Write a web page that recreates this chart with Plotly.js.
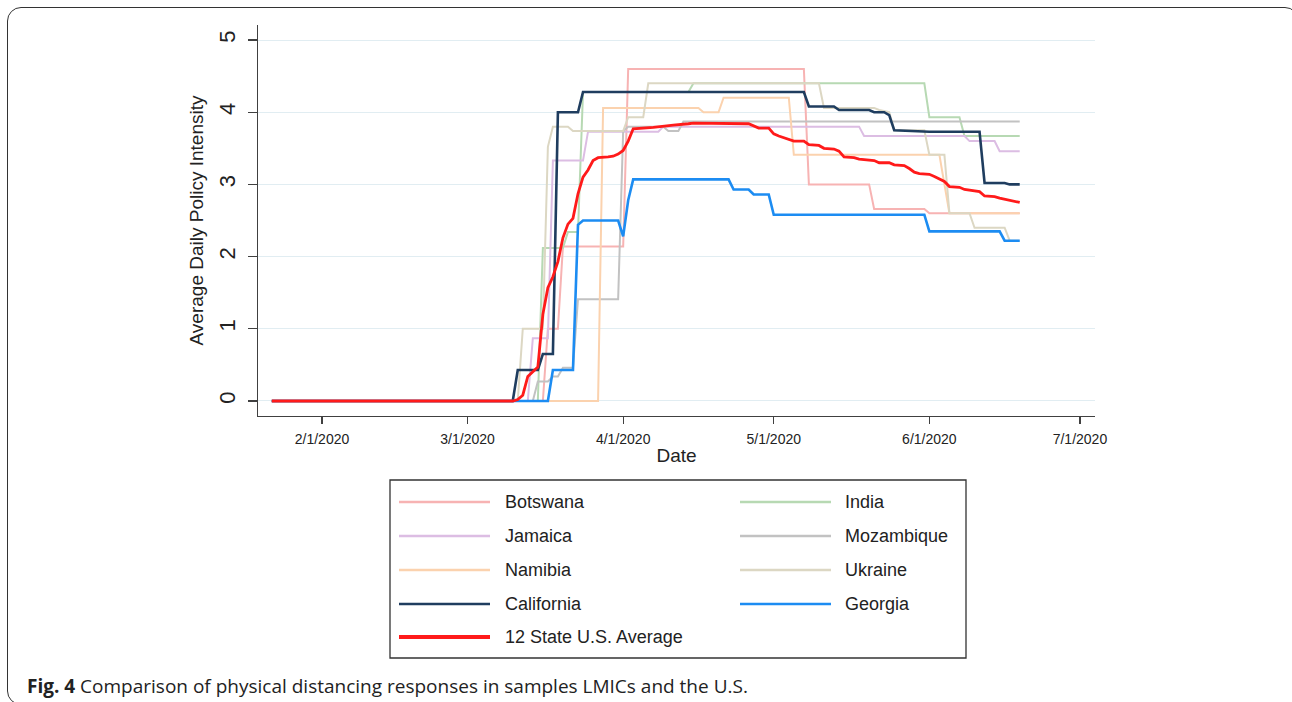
<!DOCTYPE html>
<html>
<head>
<meta charset="utf-8">
<script src="https://cdn.plot.ly/plotly-3.0.1.min.js"></script>
<style>
  html, body { margin: 0; padding: 0; background: #ffffff; overflow: hidden; }
  #frame { position: absolute; left: 7px; top: 7px; width: 1290px; height: 696px;
           border: 1.5px solid #333; border-radius: 14px; }
  #chart { position: absolute; left: 0; top: 0; width: 1292px; height: 702px; }
</style>
</head>
<body>
<div id="frame"></div>
<div id="chart"></div>
<script>
// ---------------- data ----------------
const botswanaDates = ['2020-01-22','2020-03-16','2020-03-17','2020-03-19','2020-03-20','2020-04-01','2020-04-02','2020-05-07','2020-05-08','2020-05-20','2020-05-21','2020-05-31','2020-06-01','2020-06-19'];
const botswanaValues = [0,0,1.0,1.0,2.14,2.14,4.6,4.6,3.0,3.0,2.66,2.66,2.6,2.6];

const indiaDates = ['2020-01-22','2020-03-15','2020-03-16','2020-03-20','2020-03-21','2020-03-23','2020-03-24','2020-04-14','2020-04-15','2020-05-31','2020-06-01','2020-06-07','2020-06-08','2020-06-19'];
const indiaValues = [0,0,2.12,2.12,2.34,2.34,4.28,4.28,4.4,4.4,3.93,3.93,3.67,3.67];

const jamaicaDates = ['2020-01-22','2020-03-13','2020-03-14','2020-03-17','2020-03-18','2020-03-24','2020-03-25','2020-04-08','2020-04-09','2020-05-18','2020-05-19','2020-06-08','2020-06-09','2020-06-14','2020-06-15','2020-06-19'];
const jamaicaValues = [0,0,0.87,0.87,3.33,3.33,3.73,3.73,3.8,3.8,3.67,3.67,3.6,3.6,3.46,3.46];

const mozambiqueDates = ['2020-01-22','2020-03-14','2020-03-15','2020-03-17','2020-03-18','2020-03-19','2020-03-20','2020-03-22','2020-03-23','2020-03-31','2020-04-01','2020-04-02','2020-04-09','2020-04-10','2020-04-12','2020-04-13','2020-06-19'];
const mozambiqueValues = [0,0,0.27,0.27,0.34,0.34,0.46,0.46,1.41,1.41,3.74,3.8,3.8,3.74,3.74,3.87,3.87];

const namibiaDates = ['2020-01-22','2020-03-27','2020-03-28','2020-04-16','2020-04-17','2020-04-20','2020-04-21','2020-05-04','2020-05-05','2020-06-03','2020-06-04','2020-06-05','2020-06-19'];
const namibiaValues = [0,0,4.06,4.06,4.0,4.0,4.2,4.2,3.41,3.41,3.0,2.6,2.6];

const ukraineDates = ['2020-01-22','2020-03-11','2020-03-12','2020-03-16','2020-03-17','2020-03-18','2020-03-21','2020-03-22','2020-04-01','2020-04-02','2020-04-05','2020-04-06','2020-05-10','2020-05-11','2020-05-21','2020-05-22','2020-05-24','2020-05-25','2020-05-31','2020-06-01','2020-06-04','2020-06-05','2020-06-09','2020-06-10','2020-06-16','2020-06-17','2020-06-19'];
const ukraineValues = [0,0,1.0,1.0,3.52,3.8,3.8,3.74,3.74,3.93,3.93,4.4,4.4,4.06,4.06,4.03,4.0,3.75,3.75,3.41,3.41,2.6,2.6,2.4,2.4,2.22,2.22];

const californiaDates = ['2020-01-22','2020-03-10','2020-03-11','2020-03-15','2020-03-16','2020-03-18','2020-03-19','2020-03-23','2020-03-24','2020-05-07','2020-05-08','2020-05-13','2020-05-14','2020-05-20','2020-05-21','2020-05-23','2020-05-24','2020-05-25','2020-06-01','2020-06-11','2020-06-12','2020-06-16','2020-06-17','2020-06-19'];
const californiaValues = [0,0,0.43,0.43,0.65,0.65,4.0,4.0,4.28,4.28,4.08,4.08,4.03,4.03,4.0,4.0,3.96,3.75,3.73,3.73,3.02,3.02,3.0,3.0];

const georgiaDates = ['2020-01-22','2020-03-17','2020-03-18','2020-03-22','2020-03-23','2020-03-24','2020-03-31','2020-04-01','2020-04-02','2020-04-03','2020-04-22','2020-04-23','2020-04-26','2020-04-27','2020-04-30','2020-05-01','2020-05-31','2020-06-01','2020-06-15','2020-06-16','2020-06-19'];
const georgiaValues = [0,0,0.43,0.43,2.44,2.5,2.5,2.28,2.78,3.07,3.07,2.93,2.93,2.86,2.86,2.58,2.58,2.35,2.35,2.22,2.22];

const averageDates = ['2020-01-22','2020-03-10','2020-03-11','2020-03-12','2020-03-13','2020-03-14','2020-03-15','2020-03-16','2020-03-17','2020-03-18','2020-03-19','2020-03-20','2020-03-21','2020-03-22','2020-03-23','2020-03-24','2020-03-25','2020-03-26','2020-03-27','2020-03-29','2020-03-30','2020-03-31','2020-04-01','2020-04-02','2020-04-03','2020-04-07','2020-04-09','2020-04-11','2020-04-14','2020-04-15','2020-04-26','2020-04-27','2020-04-28','2020-04-30','2020-05-01','2020-05-02','2020-05-04','2020-05-05','2020-05-07','2020-05-08','2020-05-10','2020-05-11','2020-05-13','2020-05-14','2020-05-15','2020-05-17','2020-05-18','2020-05-19','2020-05-21','2020-05-22','2020-05-24','2020-05-25','2020-05-27','2020-05-28','2020-05-29','2020-05-30','2020-06-01','2020-06-02','2020-06-03','2020-06-04','2020-06-05','2020-06-07','2020-06-08','2020-06-09','2020-06-11','2020-06-12','2020-06-14','2020-06-15','2020-06-17','2020-06-19'];
const averageValues = [0,0,0.02,0.08,0.34,0.41,0.47,1.2,1.57,1.72,1.93,2.26,2.45,2.53,2.87,3.1,3.2,3.33,3.37,3.38,3.39,3.42,3.47,3.6,3.77,3.79,3.81,3.82,3.84,3.85,3.84,3.81,3.78,3.78,3.70,3.67,3.62,3.60,3.60,3.55,3.54,3.50,3.49,3.46,3.38,3.37,3.35,3.34,3.33,3.30,3.30,3.27,3.26,3.22,3.17,3.15,3.14,3.11,3.08,3.04,2.97,2.96,2.93,2.92,2.90,2.84,2.83,2.81,2.78,2.75];

const seriesNames = ['Botswana','India','Jamaica','Mozambique','Namibia','Ukraine','California','Georgia','12 State U.S. Average'];
const seriesDates = [botswanaDates, indiaDates, jamaicaDates, mozambiqueDates, namibiaDates, ukraineDates, californiaDates, georgiaDates, averageDates];
const seriesValues = [botswanaValues, indiaValues, jamaicaValues, mozambiqueValues, namibiaValues, ukraineValues, californiaValues, georgiaValues, averageValues];

const xTickDates = ['2020-02-01','2020-03-01','2020-04-01','2020-05-01','2020-06-01','2020-07-01'];
const xTickLabels = ['2/1/2020','3/1/2020','4/1/2020','5/1/2020','6/1/2020','7/1/2020'];
const yTickValues = [0,1,2,3,4,5];
const yTickLabels = ['0','1','2','3','4','5'];

// ---------------- styles ----------------
const seriesColors = ['#f7b3b3','#b7d9b3','#dcbde3','#c2c2c2','#fbd2ae','#dcd7c3','#1f3d5f','#1c8cf2','#ff1a1a'];
const seriesWidths = [2, 2, 2, 2, 2, 2, 2.6, 2.6, 2.8];
const legendWidths = [2.5, 2.5, 2.5, 2.5, 2.5, 2.5, 2.5, 2.5, 3.8];

const FONT = 'Liberation Sans, Arial, sans-serif';
const PLOT = {l: 258, t: 25, w: 837, h: 391};
function px(x) { return (x - PLOT.l) / PLOT.w; }
function py(y) { return (PLOT.t + PLOT.h - y) / PLOT.h; }

const traces = seriesNames.map((name, i) => ({
  type: 'scatter', mode: 'lines', name: name,
  x: seriesDates[i], y: seriesValues[i],
  line: {color: seriesColors[i], width: seriesWidths[i]},
  showlegend: false, hoverinfo: 'skip'
}));

// ---------------- custom legend box ----------------
const shapes = [];
const annotations = [];
const legendBox = {x0: 390, x1: 966, y0: 480, y1: 658};
shapes.push({type: 'rect', xref: 'paper', yref: 'paper',
  x0: px(legendBox.x0), x1: px(legendBox.x1), y0: py(legendBox.y1), y1: py(legendBox.y0),
  line: {color: '#333', width: 1.3}, fillcolor: 'rgba(0,0,0,0)'});
const rowY = [502, 536, 570, 604, 637];
const colLineX0 = [399, 740], colLineX1 = [490, 831], colTextX = [503, 843];
seriesNames.forEach((name, i) => {
  const r = Math.floor(i / 2), c = i % 2;
  shapes.push({type: 'line', xref: 'paper', yref: 'paper',
    x0: px(colLineX0[c]), x1: px(colLineX1[c]), y0: py(rowY[r]), y1: py(rowY[r]),
    line: {color: seriesColors[i], width: legendWidths[i]}});
  annotations.push({xref: 'paper', yref: 'paper', x: px(colTextX[c]), y: py(rowY[r]),
    xanchor: 'left', yanchor: 'middle', showarrow: false, text: name,
    font: {family: FONT, size: 18, color: '#222'}});
});

// caption
annotations.push({xref: 'paper', yref: 'paper', x: px(25), y: py(686), xanchor: 'left', yanchor: 'middle',
  showarrow: false, text: '<b>Fig. 4</b> Comparison of physical distancing responses in samples LMICs and the U.S.',
  font: {family: 'Open Sans, Noto Sans, sans-serif', size: 19, color: '#222'}});

const layout = {
  width: 1292, height: 702,
  margin: {l: PLOT.l, r: 1292 - PLOT.l - PLOT.w, t: PLOT.t, b: 702 - PLOT.t - PLOT.h, pad: 0},
  paper_bgcolor: 'rgba(0,0,0,0)', plot_bgcolor: 'rgba(0,0,0,0)',
  showlegend: false,
  font: {family: FONT, color: '#222'},
  xaxis: {
    type: 'date', range: ['2020-01-19 06:00', '2020-07-04 00:00'],
    tickmode: 'array', tickvals: xTickDates, ticktext: xTickLabels,
    ticks: 'outside', ticklen: 7, tickwidth: 1.3, tickcolor: '#404040',
    showline: true, linecolor: '#404040', linewidth: 1.3,
    showgrid: false, zeroline: false,
    tickfont: {family: FONT, size: 14, color: '#222'},
    ticklabelstandoff: 3,
    title: {text: 'Date', font: {family: FONT, size: 19, color: '#222'}, standoff: 2}
  },
  yaxis: {
    range: [-0.208, 5.208],
    tickmode: 'array', tickvals: yTickValues, ticktext: yTickLabels, tickangle: -90,
    ticks: 'outside', ticklen: 9, tickwidth: 1.3, tickcolor: '#404040',
    showline: true, linecolor: '#404040', linewidth: 1.3,
    showgrid: true, gridcolor: '#e1edf2', gridwidth: 1, zeroline: false,
    tickfont: {family: FONT, size: 22, color: '#222'},
    ticklabelstandoff: 4,
    title: {text: 'Average Daily Policy Intensity', font: {family: FONT, size: 19, color: '#222'}, standoff: 6}
  },
  shapes: shapes,
  annotations: annotations
};

Plotly.newPlot('chart', traces, layout, {displayModeBar: false, staticPlot: true});
</script>
</body>
</html>
